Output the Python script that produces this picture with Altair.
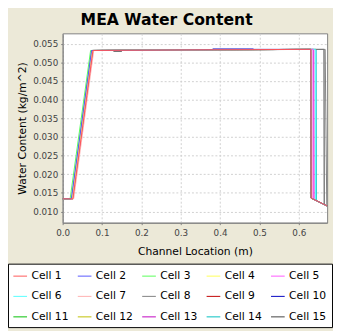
import altair as alt
import pandas as pd

CELLS = ["Cell 1", "Cell 2", "Cell 3", "Cell 4", "Cell 5", "Cell 6", "Cell 7", "Cell 8",
         "Cell 9", "Cell 10", "Cell 11", "Cell 12", "Cell 13", "Cell 14", "Cell 15"]
COLORS = ["#FF5555", "#5555FF", "#55FF55", "#FFFF55", "#FF55FF", "#55FFFF", "#FFAFAF", "#808080",
          "#C00000", "#0000C0", "#00C000", "#C0C000", "#C000C0", "#00C0C0", "#404040"]

X_TICKS = [0.0, 0.1, 0.2, 0.3, 0.4, 0.5, 0.6]
Y_TICKS = [0.010, 0.015, 0.020, 0.025, 0.030, 0.035, 0.040, 0.045, 0.050, 0.055]

# per-cell profiles: channel location (m) and water content (kg/m^2)
C1_X = [0.000, 0.026, 0.077, 0.380, 0.6305, 0.6315, 0.672]
C1_Y = [0.0134, 0.0134, 0.0532, 0.0534, 0.0535, 0.0136, 0.0115]
C2_X = [0.000, 0.022, 0.0735, 0.380, 0.6305, 0.6315, 0.672]
C2_Y = [0.0134, 0.0134, 0.0532, 0.0534, 0.0535, 0.0136, 0.0115]
C3_X = [0.000, 0.019, 0.071, 0.380, 0.6305, 0.6315, 0.672]
C3_Y = [0.0134, 0.0134, 0.0532, 0.0534, 0.0535, 0.0136, 0.0115]
C4_X = [0.000, 0.024, 0.075, 0.380, 0.6305, 0.6315, 0.672]
C4_Y = [0.0134, 0.0134, 0.0532, 0.0534, 0.0535, 0.0136, 0.0115]
C5_X = [0.000, 0.025, 0.076, 0.380, 0.636, 0.6365, 0.672]
C5_Y = [0.0134, 0.0134, 0.0532, 0.0534, 0.0535, 0.01334, 0.0115]
C6_X = [0.000, 0.024, 0.075, 0.380, 0.642, 0.6425, 0.672]
C6_Y = [0.0134, 0.0134, 0.0532, 0.0534, 0.0535, 0.01302, 0.0115]
C7_X = [0.000, 0.028, 0.079, 0.380, 0.633, 0.634, 0.672]
C7_Y = [0.0134, 0.0134, 0.0532, 0.0534, 0.0535, 0.01347, 0.0115]
C8_X = [0.000, 0.025, 0.076, 0.380, 0.667, 0.671, 0.672]
C8_Y = [0.0134, 0.0134, 0.0532, 0.0534, 0.0535, 0.0117, 0.0115]
C9_X = [0.000, 0.024, 0.075, 0.380, 0.6305, 0.6315, 0.672]
C9_Y = [0.0134, 0.0134, 0.0532, 0.0534, 0.0535, 0.0136, 0.0115]
C10_X = [0.000, 0.024, 0.075, 0.380, 0.381, 0.484, 0.486, 0.6305, 0.6315, 0.672]
C10_Y = [0.0134, 0.0134, 0.0532, 0.0534, 0.0536, 0.0536, 0.0535, 0.0535, 0.0136, 0.0115]
C11_X = [0.000, 0.023, 0.074, 0.380, 0.6305, 0.6315, 0.672]
C11_Y = [0.0134, 0.0134, 0.0532, 0.0534, 0.0535, 0.0136, 0.0115]
C12_X = [0.000, 0.025, 0.076, 0.380, 0.6305, 0.6315, 0.672]
C12_Y = [0.0134, 0.0134, 0.0532, 0.0534, 0.0535, 0.0136, 0.0115]
C13_X = [0.000, 0.025, 0.076, 0.380, 0.638, 0.6385, 0.672]
C13_Y = [0.0134, 0.0134, 0.0532, 0.0534, 0.0535, 0.01323, 0.0115]
C14_X = [0.000, 0.025, 0.076, 0.380, 0.644, 0.6445, 0.672]
C14_Y = [0.0134, 0.0134, 0.0532, 0.0534, 0.0535, 0.01292, 0.0115]
C15_X = [0.000, 0.025, 0.076, 0.128, 0.130, 0.150, 0.152, 0.380, 0.664, 0.6645, 0.672]
C15_Y = [0.0134, 0.0134, 0.0532, 0.0532, 0.0530, 0.0530, 0.0532, 0.0534, 0.0535, 0.01188, 0.0115]

XS = [C1_X, C2_X, C3_X, C4_X, C5_X, C6_X, C7_X, C8_X, C9_X, C10_X, C11_X, C12_X, C13_X, C14_X, C15_X]
YS = [C1_Y, C2_Y, C3_Y, C4_Y, C5_Y, C6_Y, C7_Y, C8_Y, C9_Y, C10_Y, C11_Y, C12_Y, C13_Y, C14_Y, C15_Y]

rows = []
# reverse order so Cell 1 is drawn last (on top)
for k in reversed(range(len(CELLS))):
    for xv, yv in zip(XS[k], YS[k]):
        rows.append({"Cell": CELLS[k], "x": xv, "y": yv})
df = pd.DataFrame(rows)

FONT = "DejaVu Sans"

chart = alt.Chart(df).mark_line(strokeWidth=1, clip=True).encode(
    x=alt.X("x:Q",
            scale=alt.Scale(domain=[0, 0.672], nice=False, zero=False),
            axis=alt.Axis(values=X_TICKS, format=".1f", title="Channel Location (m)",
                          labelFont=FONT, labelFontSize=9, labelColor="#444444",
                          tickSize=2, tickColor="#808080", domainColor="#808080",
                          labelPadding=4, titlePadding=9,
                          titleFont=FONT, titleFontSize=11, titleFontWeight="normal",
                          titleColor="black",
                          gridColor="#D0D0D0", gridDash=[2, 2], labelFlush=False)),
    y=alt.Y("y:Q",
            scale=alt.Scale(domain=[0.0070, 0.0578], nice=False, zero=False),
            axis=alt.Axis(values=Y_TICKS, format=".3f", title="Water Content (kg/m^2)",
                          labelFont=FONT, labelFontSize=9, labelColor="#444444",
                          tickSize=2, tickColor="#808080", domainColor="#808080",
                          labelPadding=3, titlePadding=5,
                          titleFont=FONT, titleFontSize=11, titleFontWeight="normal",
                          titleColor="black",
                          gridColor="#D0D0D0", gridDash=[2, 2], labelFlush=False)),
    color=alt.Color("Cell:N",
                    scale=alt.Scale(domain=CELLS, range=COLORS),
                    legend=alt.Legend(orient="none", legendX=-56, legendY=236, columns=5,
                                      direction="horizontal", title=None,
                                      symbolType="stroke", symbolSize=196, symbolStrokeWidth=1,
                                      labelFont=FONT, labelFontSize=11, labelColor="black",
                                      labelOffset=4, rowPadding=8, columnPadding=6,
                                      padding=5, fillColor="white", strokeColor="black",
                                      gridAlign="each")),
).properties(
    width=271,
    height=194,
    padding={"left": 56, "top": 22, "right": 6, "bottom": 107},
    autosize=alt.AutoSizeParams(type="none"),
    title=alt.TitleParams("MEA Water Content", font=FONT, fontSize=16, fontWeight="bold",
                          color="black", anchor="middle", dx=-29, offset=6),
).configure(
    background="#ECE9D8",
).configure_view(
    fill="white", stroke="#808080",
)

chart.save("out.html", embed_options={"renderer": "svg", "actions": False})
